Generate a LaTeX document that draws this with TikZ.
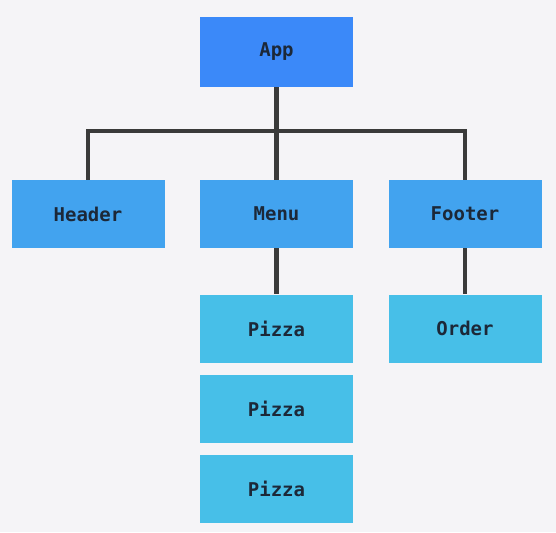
\documentclass[tikz,border=0pt]{standalone}
\usepackage{fontspec}
\newfontfamily\boxfont{DejaVu Sans Mono}
\usepackage{xcolor}
\usepackage{tikz}

\definecolor{bgcol}{HTML}{F5F4F7}
\definecolor{appcol}{HTML}{3B89F9}
\definecolor{midcol}{HTML}{42A3EF}
\definecolor{leafcol}{HTML}{47BFE8}
\definecolor{wirecol}{HTML}{3A3A3A}
\definecolor{textcol}{HTML}{1C2838}

\tikzset{
    comp/.style={draw=none, minimum width=153pt, minimum height=68pt,
        inner sep=0pt, text=textcol,
        font=\boxfont\bfseries\fontsize{19}{22}\selectfont},
    wire/.style={draw=wirecol, line width=4.5pt}
}

\begin{document}
\begin{tikzpicture}[x=1pt, y=-1pt]
    % Background
    \fill[bgcol] (0,0) rectangle (556,532);
    \useasboundingbox (0,0) rectangle (556,532);

    % Components
    \node[comp, fill=appcol, minimum height=70pt] (app) at (276.5,52) {App};
    \node[comp, fill=midcol] (header) at (88,214) {Header};
    \node[comp, fill=midcol] (menu) at (276.5,214) {Menu};
    \node[comp, fill=midcol] (footer) at (465,214) {Footer};
    \node[comp, fill=leafcol] (pizzaA) at (276.5,328.5) {Pizza};
    \node[comp, fill=leafcol] (pizzaB) at (276.5,408.5) {Pizza};
    \node[comp, fill=leafcol] (pizzaC) at (276.5,489) {Pizza};
    \node[comp, fill=leafcol] (order) at (465,328.5) {Order};

    % Connectors
    \coordinate (bus) at (276.5,131);
    \draw[wire] (header.north) |- (bus) -| (footer.north);
    \draw[wire] (app.south) -- (menu.north);
    \draw[wire] (menu.south) -- (pizzaA.north);
    \draw[wire] (footer.south) -- (order.north);
\end{tikzpicture}
\end{document}
